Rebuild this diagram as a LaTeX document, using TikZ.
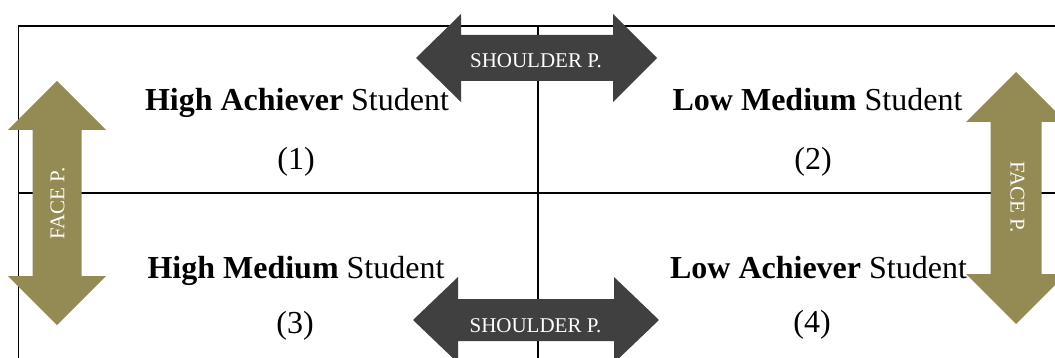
\documentclass[tikz,border=0pt]{standalone}
\usepackage{fontspec}
\setmainfont{Liberation Serif}
\definecolor{olivearrow}{HTML}{948A54}
\definecolor{darkarrow}{HTML}{404040}
\begin{document}
\begin{tikzpicture}[x=1pt,y=-1pt,
  gridline/.style={draw=black,line width=1.1pt},
  label/.style={font=\fontsize{32}{38}\selectfont,anchor=base,inner sep=0pt},
  arrowtext/.style={font=\fontsize{21}{25}\selectfont,text=white,inner sep=0pt}]
\useasboundingbox (0,0) rectangle (1055,358);
% table grid
\draw[gridline] (18.5,358) -- (18.5,26) -- (1055,26);
\draw[gridline] (18.5,193) -- (1055,193);
\draw[gridline] (538,26) -- (538,358);
% left FACE arrow
\fill[olivearrow] (57,81) -- (106,130) -- (81.5,130) -- (81.5,276) -- (106,276) -- (57,325)
  -- (8,276) -- (32.5,276) -- (32.5,130) -- (8,130) -- cycle;
% right FACE arrow
\fill[olivearrow] (1016,72) -- (1066,122) -- (1041.5,122) -- (1041.5,274) -- (1066,274) -- (1016,324)
  -- (966,274) -- (990.5,274) -- (990.5,122) -- (966,122) -- cycle;
% top SHOULDER arrow
\fill[darkarrow] (416,58) -- (461,14) -- (461,35) -- (613,35) -- (613,14) -- (657,58)
  -- (613,102) -- (613,81) -- (461,81) -- (461,102) -- cycle;
% bottom SHOULDER arrow
\fill[darkarrow] (413,320) -- (458,277) -- (458,299) -- (614,299) -- (614,277) -- (659,320)
  -- (614,363) -- (614,341) -- (458,341) -- (458,363) -- cycle;
% arrow labels
\node[arrowtext,anchor=base] (sh1) at (536,67.7) {SHOULDER P.};
\node[arrowtext,anchor=base] (sh2) at (535.5,332) {SHOULDER P.};
\node[arrowtext,rotate=90] (fa1) at (57.5,203.5) {FACE P.};
\node[arrowtext,rotate=-90] (fa2) at (1017.5,197) {FACE P.};
% cell texts
\node[label] (c1) at (297,111) {\textbf{High Achiever} Student};
\node[label] (n1) at (296,170) {(1)};
\node[label] (c2) at (817.5,111) {\textbf{Low Medium} Student};
\node[label] (n2) at (813,170) {(2)};
\node[label] (c3) at (296,279) {\textbf{High Medium} Student};
\node[label] (n3) at (295,333) {(3)};
\node[label] (c4) at (818.5,279) {\textbf{Low Achiever} Student};
\node[label] (n4) at (812,332) {(4)};
\end{tikzpicture}
\end{document}
